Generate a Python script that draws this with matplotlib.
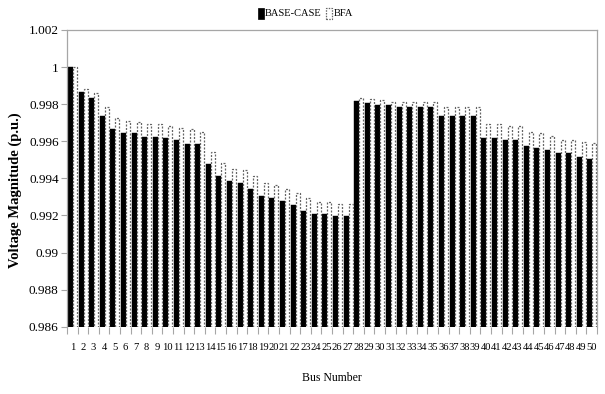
import matplotlib
matplotlib.use("Agg")
import matplotlib.pyplot as plt
from matplotlib.patches import Rectangle
import numpy as np

bus_numbers = list(range(1, 51))

base_case = [
    1.0000, 0.99867, 0.99835, 0.99736, 0.99668, 0.99646, 0.99646, 0.99625, 0.99625, 0.99619,
    0.99607, 0.99585, 0.99585, 0.99477, 0.99414, 0.99386, 0.99377, 0.99343, 0.99305, 0.99294,
    0.99278, 0.99256, 0.99224, 0.99208, 0.99208, 0.99197, 0.99197, 0.99819, 0.99808, 0.99797,
    0.99796, 0.99785, 0.99785, 0.99785, 0.99785, 0.99736, 0.99736, 0.99736, 0.99736, 0.99619,
    0.99619, 0.99609, 0.99609, 0.99575, 0.99564, 0.99553, 0.99537, 0.99537, 0.99515, 0.99504,
]

bfa = [
    1.0000, 0.99880, 0.99862, 0.99783, 0.99724, 0.99711, 0.99702, 0.99693, 0.99693, 0.99682,
    0.99673, 0.99664, 0.99652, 0.99540, 0.99481, 0.99452, 0.99443, 0.99411, 0.99373, 0.99362,
    0.99341, 0.99323, 0.99292, 0.99273, 0.99273, 0.99262, 0.99262, 0.99832, 0.99830, 0.99823,
    0.99813, 0.99813, 0.99813, 0.99813, 0.99813, 0.99783, 0.99783, 0.99783, 0.99783, 0.99691,
    0.99691, 0.99682, 0.99682, 0.99652, 0.99643, 0.99630, 0.99607, 0.99607, 0.99598, 0.99589,
]

y_ticks = [0.986, 0.988, 0.99, 0.992, 0.994, 0.996, 0.998, 1.0, 1.002]
y_tick_labels = ["0.986", "0.988", "0.99", "0.992", "0.994", "0.996", "0.998", "1", "1.002"]

serif = ["Liberation Serif", "DejaVu Serif"]
axis_gray = "#a6a6a6"
y_min = 0.986

fig = plt.figure(figsize=(6.05, 3.94), dpi=100)
ax = fig.add_axes([0.1107, 0.1708, 0.8761, 0.7531])

x = np.arange(len(bus_numbers))
ax.bar(x - 0.40, np.array(base_case) - y_min, bottom=y_min, width=0.46,
       align="edge", color="black", edgecolor="black", linewidth=0.3)
ax.bar(x + 0.07, np.array(bfa) - y_min, bottom=y_min, width=0.38,
       align="edge", facecolor="white", edgecolor="#666666",
       linewidth=0.9, linestyle=(0, (1.6, 1.2)))

ax.set_xlim(-0.5, len(bus_numbers) - 0.5)
ax.set_ylim(0.986, 1.002)

ax.set_xticks(x)
ax.set_xticklabels([str(b) for b in bus_numbers], fontfamily=serif, fontsize=7.6)
ax.set_xticks(np.arange(len(bus_numbers) + 1) - 0.5, minor=True)
ax.tick_params(axis="x", which="major", length=0, pad=12)
ax.tick_params(axis="x", which="minor", length=5, color=axis_gray, width=0.8)

ax.set_yticks(y_ticks)
ax.set_yticklabels(y_tick_labels, fontfamily=serif, fontsize=9.5)
ax.tick_params(axis="y", length=4, color=axis_gray, width=0.8, pad=2)

for side in ["left", "top", "right", "bottom"]:
    ax.spines[side].set_color(axis_gray)
    ax.spines[side].set_linewidth(0.9)
ax.spines["bottom"].set_visible(False)

ax.set_ylabel("Voltage Magnitude (p.u.)", fontfamily=serif, fontsize=10.5,
              fontweight="bold")
ax.yaxis.set_label_coords(-0.085, 0.46)
ax.set_xlabel("Bus Number", fontfamily=serif, fontsize=8.5, labelpad=14)

# legend drawn in figure coordinates above the plot area
fig.patches.append(Rectangle((258 / 605, 1 - 19 / 394), 6 / 605, 11 / 394,
                             transform=fig.transFigure, facecolor="black",
                             edgecolor="black", linewidth=0.5))
fig.text(265 / 605, 1 - 14 / 394, "BASE-CASE", fontfamily=serif, fontsize=7.5,
         va="center", ha="left")
fig.patches.append(Rectangle((326 / 605, 1 - 19 / 394), 6 / 605, 11 / 394,
                             transform=fig.transFigure, facecolor="white",
                             edgecolor="#666666", linewidth=0.9,
                             linestyle=(0, (1.2, 1.0))))
fig.text(334 / 605, 1 - 14 / 394, "BFA", fontfamily=serif, fontsize=7.5,
         va="center", ha="left")

fig.savefig("out.png", dpi=100)
